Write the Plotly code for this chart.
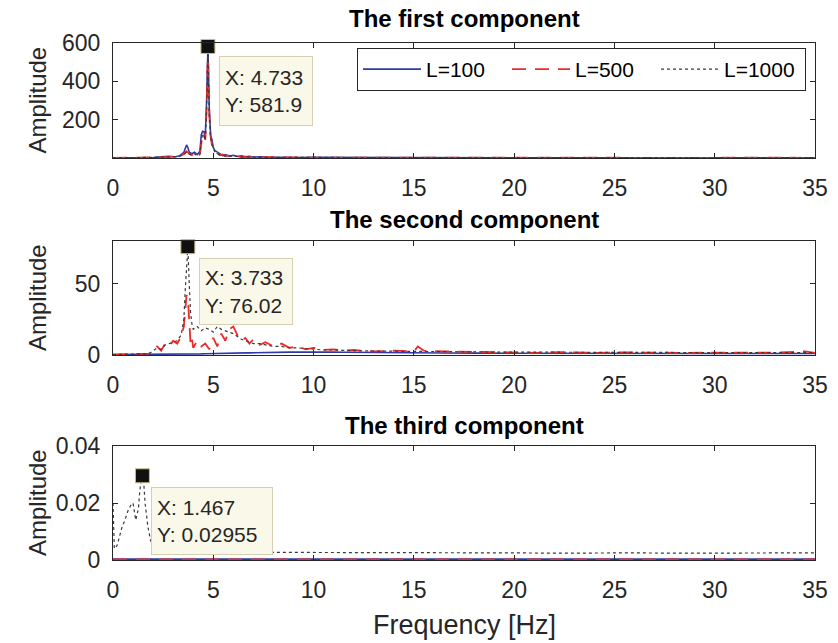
import plotly.graph_objects as go

# ---------------- data ----------------
# Panel 1: the first component
f1 = [0, 1.0, 2.0, 2.4, 2.8, 3.067, 3.333, 3.533, 3.667, 3.733, 3.8, 3.933, 4.067, 4.2,
      4.333, 4.4, 4.467, 4.533, 4.6, 4.667, 4.733, 4.8, 4.867, 4.933, 5.0, 5.067, 5.2,
      5.333, 5.467, 5.6, 5.8, 6.0, 6.2, 6.4, 6.6, 6.8, 7.0, 7.4, 7.8, 8.4, 9, 10, 12, 14,
      17, 20, 23, 26, 29, 32, 35]
a1_L100 = [0.5, 1, 2, 6, 9, 5, 12, 30, 68, 55, 30, 22, 30, 18,
           35, 120, 140, 138, 110, 300, 575, 260, 120, 95, 55, 40, 30,
           22, 12, 18, 10, 14, 8, 11, 6, 9, 5, 6, 3, 4, 2, 3, 2, 1.5,
           1, 1.5, 1, 1, 1.2, 1, 1]
a1_L500 = [0.3, 0.8, 1.5, 4, 6, 8, 10, 20, 35, 28, 22, 15, 25, 12,
           20, 90, 130, 120, 95, 250, 581.9, 230, 110, 70, 60, 35, 25,
           15, 18, 10, 12, 8, 10, 5, 7, 4, 6, 3, 4, 2, 3, 2, 1.5, 2,
           1, 1, 1.5, 1, 1, 1.5, 1]
a1_L1000 = [0.3, 0.7, 1.4, 4, 5, 7, 9, 18, 33, 27, 20, 14, 22, 11,
            18, 85, 125, 118, 92, 240, 570, 225, 105, 68, 55, 33, 22,
            14, 16, 9, 11, 7, 9, 5, 6, 4, 5, 3, 3, 2, 2.5, 2, 1.5, 1.5,
            1, 1, 1.2, 1, 1, 1.2, 1]

# Panel 2: the second component
f2 = [0, 0.5, 1.0, 1.5, 1.8, 2.0, 2.2, 2.4, 2.6, 2.8, 3.0, 3.2, 3.4, 3.533, 3.6, 3.667,
      3.733, 3.8, 3.867, 3.933, 4.0, 4.2, 4.4, 4.6, 4.8, 5.0, 5.2, 5.4, 5.6, 5.8, 6.0,
      6.2, 6.4, 6.6, 6.8, 7.0, 7.3, 7.6, 8.0, 8.4, 8.8, 9.2, 9.6, 10.0, 10.5, 11, 11.5,
      12, 13, 14, 15, 15.2, 15.5, 16.5, 18, 19.5, 21, 22.5, 24, 25.5, 27, 28.5, 30,
      31.5, 33, 34.5, 35]
a2_L100 = [0.3, 0.3, 0.3, 0.4, 0.4, 0.4, 0.5, 0.5, 0.5, 0.5, 0.6, 0.6, 0.6, 0.6, 0.6, 0.6,
           0.6, 0.6, 0.6, 0.7, 0.7, 0.8, 0.8, 0.9, 1.0, 1.0, 1.1, 1.2, 1.2, 1.3, 1.3,
           1.4, 1.4, 1.5, 1.5, 1.6, 1.6, 1.7, 1.8, 1.9, 2.0, 2.0, 2.1, 2.1, 2.0, 2.0, 1.9,
           1.9, 1.8, 1.7, 1.6, 1.6, 1.5, 1.4, 1.3, 1.2, 1.2, 1.1, 1.1, 1.0, 1.0, 1.0, 1.0,
           1.0, 1.0, 1.0, 1.0]
a2_L500 = [0.3, 0.5, 0.4, 0.8, 1, 4, 6, 3, 8, 6, 10, 8, 13, 20, 30, 42,
           40, 22, 8, 12, 5, 10, 6, 8, 4, 12, 6, 15, 10, 18, 20,
           14, 10, 12, 8, 11, 7, 9, 6, 8, 5, 6, 4, 5, 3.5, 4, 3,
           3.5, 2.5, 3, 2.5, 6, 3, 2.5, 2, 2, 1.5, 2, 1.5, 1.8, 1.5, 1.5, 1.7,
           1.5, 1.6, 2.5, 1.5]
a2_L1000 = [0.3, 0.4, 0.5, 0.7, 1, 3, 5, 4, 7, 8, 9, 10, 14, 25, 45, 65,
            76.02, 50, 30, 22, 18, 20, 17, 19, 18, 16, 20, 18, 17, 16, 15,
            13, 11, 10, 9, 8, 8, 7, 6, 6, 5, 5, 4.5, 4, 3.5, 3.5, 3,
            3, 2.8, 2.6, 2.5, 2.5, 2.4, 2.3, 2.2, 2, 2, 1.9, 1.9, 1.8, 1.8, 1.7, 1.7,
            1.7, 1.6, 1.8, 1.6]

# Panel 3: the third component
f3 = [0, 0.067, 0.2, 0.333, 0.467, 0.6, 0.733, 0.867, 1.0, 1.133, 1.267, 1.333, 1.4,
      1.467, 1.533, 1.6, 1.733, 1.867, 2.0, 2.2, 2.5, 3, 4, 5, 6, 7, 8, 9, 10, 12, 14,
      16, 18, 20, 22, 24, 26, 28, 30, 32, 34, 35]
a3_L100 = [0.0003, 0.0003, 0.0003, 0.0003, 0.0003, 0.0003, 0.0003, 0.0003, 0.0003, 0.0003,
           0.0003, 0.0003, 0.0003, 0.0003, 0.0003, 0.0003, 0.0003, 0.0003, 0.0003, 0.0003,
           0.0003, 0.0003, 0.0003, 0.0003, 0.0003, 0.0003, 0.0003, 0.0003, 0.0003, 0.0003,
           0.0003, 0.0003, 0.0003, 0.0003, 0.0003, 0.0003, 0.0003, 0.0003, 0.0003, 0.0003,
           0.0003, 0.0003]
a3_L500 = [0.0002, 0.0002, 0.0002, 0.0002, 0.0002, 0.0002, 0.0002, 0.0002, 0.0002, 0.0002,
           0.0002, 0.0002, 0.0002, 0.0002, 0.0002, 0.0002, 0.0002, 0.0002, 0.0002, 0.0002,
           0.0002, 0.0002, 0.0002, 0.0002, 0.0002, 0.0002, 0.0002, 0.0002, 0.0002, 0.0002,
           0.0002, 0.0002, 0.0002, 0.0002, 0.0002, 0.0002, 0.0002, 0.0002, 0.0002, 0.0002,
           0.0002, 0.0002]
a3_L1000 = [0.020, 0.004, 0.005, 0.009, 0.012, 0.014, 0.017, 0.019, 0.020, 0.014,
            0.018, 0.024, 0.028, 0.02955, 0.027, 0.020, 0.012, 0.007, 0.005, 0.004,
            0.0035, 0.003, 0.003, 0.0028, 0.0027, 0.0027, 0.0026, 0.0026, 0.0026, 0.0025,
            0.0026, 0.0025, 0.0025, 0.0025, 0.0024, 0.0025, 0.0025, 0.0024, 0.0025, 0.0025,
            0.0026, 0.0025]

series_names = ["L=100", "L=500", "L=1000"]
panel_titles = ["The first component", "The second component", "The third component"]
x_ticks = [0, 5, 10, 15, 20, 25, 30, 35]
y_ticks = [[200, 400, 600], [0, 50], [0, 0.02, 0.04]]
y_ticklabels = [["200", "400", "600"], ["0", "50"], ["0", "0.02", "0.04"]]
y_ranges = [[0, 600], [0, 80], [0, 0.04]]

# ---------------- styling ----------------
W, H = 838, 643
FONT = "Liberation Sans, Arial, Helvetica, sans-serif"
TXT = "#262626"
colors = ["#2f3aa8", "#ee2a2a", "#3a3a3a"]
dashes = ["solid", "14px,9px", "dot"]
widths = [1.6, 1.8, 1.2]

def px_x(p):
    return p / W

def px_y(p):
    return 1 - p / H

x_dom = [px_x(113), px_x(815)]
panel_px = [(43, 158), (241, 355), (446, 560)]
title_center_px = [18, 220, 425]

panels = [
    (f1, [a1_L100, a1_L500, a1_L1000], 1),  # datatip on L=500
    (f2, [a2_L100, a2_L500, a2_L1000], 2),  # datatip on L=1000
    (f3, [a3_L100, a3_L500, a3_L1000], 2),
]

fig = go.Figure()
annotations = []
tip_boxes = [(219, 56, 82, 58), (199, 258, 82, 55), (151, 487, 110, 56)]

for i, (f, series, tip_idx) in enumerate(panels):
    xa = "x" if i == 0 else f"x{i+1}"
    ya = "y" if i == 0 else f"y{i+1}"
    for j, s in enumerate(series):
        fig.add_trace(go.Scatter(
            x=f, y=s, mode="lines", name=series_names[j],
            line=dict(color=colors[j], dash=dashes[j], width=widths[j]),
            xaxis=xa, yaxis=ya, showlegend=(i == 0),
        ))
    s = series[tip_idx]
    k = max(range(len(s)), key=lambda n: s[n])
    fig.add_trace(go.Scatter(
        x=[f[k]], y=[s[k]], mode="markers", showlegend=False, cliponaxis=False,
        marker=dict(symbol="square", size=14, color="#111111",
                    line=dict(color="#cdbf86", width=1)),
        xaxis=xa, yaxis=ya,
    ))
    bx, by, bw, bh = tip_boxes[i]
    annotations.append(dict(
        xref="paper", yref="paper", x=px_x(bx), y=px_y(by),
        xanchor="left", yanchor="top", align="left",
        text=f"X: {f[k]:.3f}<br>Y: {s[k]:.4g}",
        showarrow=False, bgcolor="#faf8e8", bordercolor="#d6d0b2", borderwidth=1,
        borderpad=5, width=bw, height=bh, font=dict(size=21, color=TXT, family=FONT),
    ))
    top, bot = panel_px[i]
    ydom = [px_y(bot), px_y(top)]
    axis_common = dict(showline=True, linecolor=TXT, linewidth=1, mirror="ticks",
                       ticks="inside", ticklen=5, tickcolor=TXT, showgrid=False,
                       zeroline=False, automargin=False,
                       tickfont=dict(size=23, color=TXT, family=FONT))
    fig.update_layout(**{
        ("xaxis" if i == 0 else f"xaxis{i+1}"): dict(
            domain=x_dom, range=[0, 35], tickvals=x_ticks, anchor=ya,
            ticklabelstandoff=9, **axis_common),
        ("yaxis" if i == 0 else f"yaxis{i+1}"): dict(
            domain=ydom, range=y_ranges[i], tickvals=y_ticks[i],
            ticktext=y_ticklabels[i], anchor=xa, ticklabelstandoff=7, **axis_common),
    })
    # subplot title
    annotations.append(dict(
        xref="paper", yref="paper", x=(x_dom[0] + x_dom[1]) / 2,
        y=px_y(title_center_px[i]),
        xanchor="center", yanchor="middle", text=f"<b>{panel_titles[i]}</b>",
        showarrow=False, font=dict(size=24, color="#000000", family=FONT),
    ))
    # y-axis label
    annotations.append(dict(
        xref="paper", yref="paper", x=px_x(37), y=(ydom[0] + ydom[1]) / 2,
        xanchor="center", yanchor="middle", text="Amplitude", textangle=-90,
        showarrow=False, font=dict(size=24, color=TXT, family=FONT),
    ))

annotations.append(dict(
    xref="paper", yref="paper", x=(x_dom[0] + x_dom[1]) / 2, y=px_y(625),
    xanchor="center", yanchor="middle", text="Frequency [Hz]",
    showarrow=False, font=dict(size=27, color=TXT, family=FONT),
))

fig.update_layout(
    width=W, height=H, margin=dict(l=0, r=0, t=0, b=0, autoexpand=False),
    paper_bgcolor="white", plot_bgcolor="white",
    annotations=annotations,
    legend=dict(
        orientation="h", x=px_x(357), y=px_y(48), xanchor="left", yanchor="top",
        bgcolor="white", bordercolor=TXT, borderwidth=1,
        font=dict(size=21, color="#000000", family=FONT),
        entrywidth=76, entrywidthmode="pixels", itemwidth=58,
    ),
)

fig.write_html("out.html")
